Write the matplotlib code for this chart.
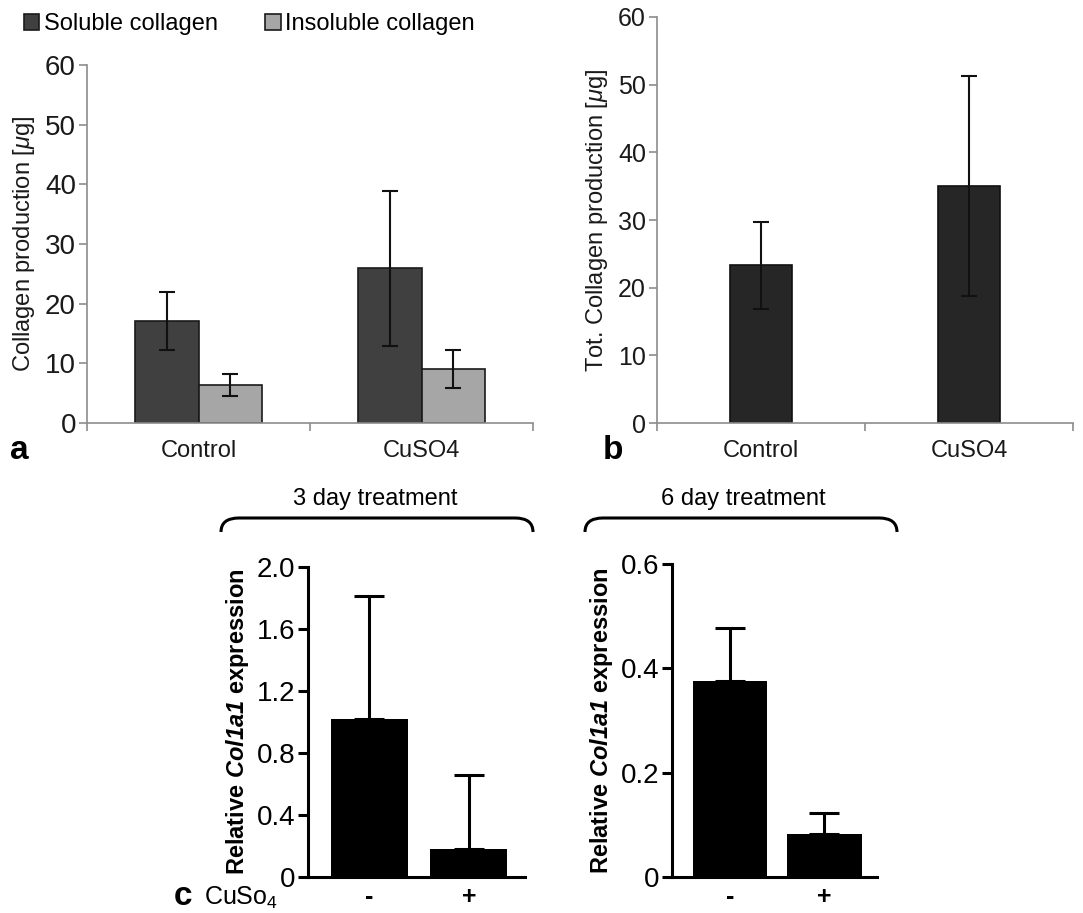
import numpy as np
import matplotlib
matplotlib.use('Agg')
import matplotlib.pyplot as plt
from matplotlib.path import Path
from matplotlib.patches import PathPatch

plt.rcParams['font.family'] = ['Liberation Sans', 'DejaVu Sans']
plt.rcParams['mathtext.fontset'] = 'custom'
plt.rcParams['mathtext.rm'] = 'Liberation Sans'
plt.rcParams['mathtext.it'] = 'Liberation Sans:italic'
plt.rcParams['mathtext.bf'] = 'Liberation Sans:bold'
plt.rcParams['mathtext.bfit'] = 'Liberation Sans:italic:bold'

# ---- data ----
groups = ['Control', 'CuSO4']
soluble = [17.1, 25.9]
soluble_err = [4.8, 13.0]
insoluble = [6.4, 9.1]
insoluble_err = [1.8, 3.2]

total = [23.3, 35.0]
total_err = [6.4, 16.3]

c_labels = ['-', '+']
day3 = [1.02, 0.18]
day3_err = [0.79, 0.48]
day6 = [0.375, 0.083]
day6_err = [0.102, 0.040]

W, H = 1083, 913
fig = plt.figure(figsize=(W / 100, H / 100), dpi=100)


def ax_px(left, right, top, bottom):
    return fig.add_axes([left / W, 1 - bottom / H, (right - left) / W, (bottom - top) / H])


def excel_style(ax, ylabel, tsize):
    for s in ['top', 'right']:
        ax.spines[s].set_visible(False)
    for s in ['left', 'bottom']:
        ax.spines[s].set_color('#8c8c8c')
        ax.spines[s].set_linewidth(1.2)
    ax.set_xlim(-0.5, 1.5)
    ax.set_ylim(0, 60)
    ax.set_yticks(range(0, 61, 10))
    ax.tick_params(axis='y', colors='#8c8c8c', labelcolor='#1a1a1a', labelsize=tsize,
                   length=6, width=1.2, pad=2)
    ax.set_xticks([-0.5, 0.5, 1.5])
    ax.set_xticklabels([])
    ax.tick_params(axis='x', which='major', colors='#8c8c8c', length=6, width=1.2)
    ax.set_xticks([0, 1], minor=True)
    ax.set_xticklabels(groups, minor=True)
    ax.tick_params(axis='x', which='minor', length=0, labelsize=17, pad=12,
                   labelcolor='#1a1a1a')
    ax.set_ylabel(ylabel, fontsize=17, color='#1a1a1a', labelpad=6)


# ---- panel a ----
ax = ax_px(87, 533, 65, 423)
x = np.arange(len(groups))
bw = 0.285
ekw = dict(ecolor='#111111', elinewidth=1.5, capsize=6, capthick=1.5)
ax.bar(x - bw / 2, soluble, bw, color='#404040', edgecolor='#1a1a1a', linewidth=1.2,
       yerr=soluble_err, error_kw=ekw, label='Soluble collagen', zorder=2)
ax.bar(x + bw / 2, insoluble, bw, color='#a6a6a6', edgecolor='#1a1a1a', linewidth=1.2,
       yerr=insoluble_err, error_kw=ekw, label='Insoluble collagen', zorder=2)
excel_style(ax, r'Collagen production [$\mu$g]', 20)
fig.legend(*ax.get_legend_handles_labels(), loc='center left',
           bbox_to_anchor=(24 / W, 1 - 24 / H), ncol=2, frameon=False,
           fontsize=17, handlelength=0.65, handleheight=0.65, handletextpad=0.2,
           columnspacing=2.0, borderaxespad=0, borderpad=0)

# ---- panel b ----
ax = ax_px(657, 1073, 17, 423)
ax.bar(x, total, 0.30, color='#262626', edgecolor='#111111', linewidth=1.2,
       yerr=total_err, error_kw=ekw, zorder=2)
excel_style(ax, r'Tot. Collagen production [$\mu$g]', 18)


# ---- panel c ----
def prism_style(ax, ymax, ticks, ticklabels):
    for s in ['top', 'right']:
        ax.spines[s].set_visible(False)
    for s in ['left', 'bottom']:
        ax.spines[s].set_linewidth(2.2)
    ax.set_ylim(0, ymax)
    ax.set_yticks(ticks)
    ax.set_yticklabels(ticklabels)
    ax.tick_params(axis='y', labelsize=20, length=7, width=2.2, pad=2)
    ax.set_xticks([0, 1])
    ax.set_xticklabels(c_labels, fontsize=18, fontweight='bold')
    ax.tick_params(axis='x', length=0, pad=6)
    ax.set_ylabel(r'Relative $\mathbfit{Col1a1}$ expression', fontsize=17,
                  fontweight='bold', labelpad=4)


ckw = dict(ecolor='black', elinewidth=2.2, capsize=11, capthick=2.2)
ax = ax_px(308, 525, 567, 877)
ax.bar([0, 1], day3, 0.774, color='black', yerr=[[0, 0], day3_err], error_kw=ckw)
ax.set_xlim(-0.618, 1.563)
prism_style(ax, 2.0, [0, 0.4, 0.8, 1.2, 1.6, 2.0], ['0', '0.4', '0.8', '1.2', '1.6', '2.0'])

ax = ax_px(672, 877, 564, 877)
ax.bar([0, 1], day6, 0.79, color='black', yerr=[[0, 0], day6_err], error_kw=ckw)
ax.set_xlim(-0.614, 1.556)
prism_style(ax, 0.6, [0, 0.2, 0.4, 0.6], ['0', '0.2', '0.4', '0.6'])


# braces over panel c
def brace(x0, x1, ytop, ybot, r=18):
    pts = [(x0, ybot), (x0, ytop), (x0 + r, ytop), (x1 - r, ytop), (x1, ytop), (x1, ybot)]
    codes = [Path.MOVETO, Path.CURVE3, Path.CURVE3, Path.LINETO, Path.CURVE3, Path.CURVE3]
    pts = [(px / W, 1 - py / H) for px, py in pts]
    fig.add_artist(PathPatch(Path(pts, codes), fill=False, lw=2.2, color='black',
                             transform=fig.transFigure))


brace(221, 533, 518, 532)
brace(585, 897, 518, 532)
fig.text(375 / W, 1 - 499 / H, '3 day treatment', fontsize=17, ha='center', va='center')
fig.text(743 / W, 1 - 499 / H, '6 day treatment', fontsize=17, ha='center', va='center')

# panel letters
fig.text(10 / W, 1 - 450 / H, 'a', fontsize=24, fontweight='bold', va='center')
fig.text(603 / W, 1 - 450 / H, 'b', fontsize=24, fontweight='bold', va='center')
fig.text(174 / W, 1 - 912 / H, 'c', fontsize=24, fontweight='bold', va='bottom')
fig.text(204 / W, 1 - 898 / H, r'CuSo$_4$', fontsize=18, va='center')

fig.savefig('out.png', dpi=100)
